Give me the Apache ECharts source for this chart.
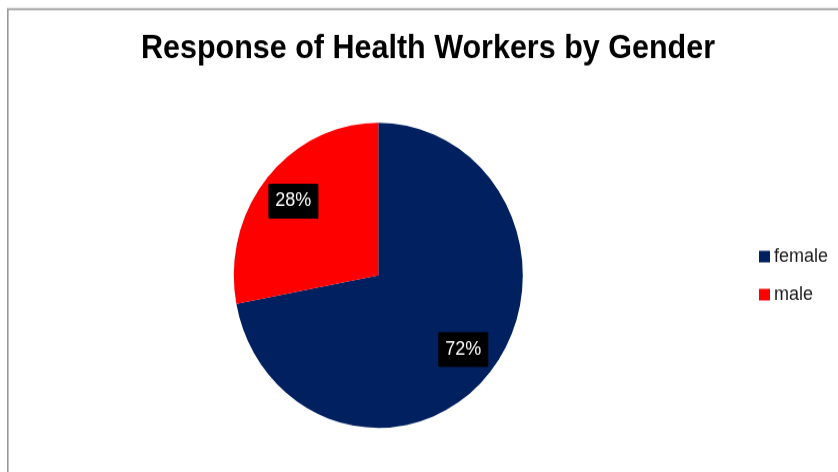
<!DOCTYPE html>
<html>
<head>
<meta charset="utf-8">
<script src="https://cdn.jsdelivr.net/npm/echarts@6/dist/echarts.min.js"></script>
<style>
html,body{margin:0;padding:0;background:#fff;overflow:hidden;width:838px;height:472px;}
#wrap{width:838px;height:472px;overflow:hidden;position:relative;}
#chart{width:838px;height:447px;transform:scale(1,1.056);transform-origin:0 0;}
</style>
</head>
<body>
<div id="wrap"><div id="chart"></div></div>
<script>
var titleText = 'Response of Health Workers by Gender';
var categories = ['female', 'male'];
var values = [72, 28];
var colors = ['#002060', '#FF0000'];

var data = categories.map(function (c, i) {
  return { name: c, value: values[i], itemStyle: { color: colors[i] } };
});
var labelData = categories.map(function (c, i) {
  return { name: c, value: values[i] };
});

var chart = echarts.init(document.getElementById('chart'), null, { renderer: 'canvas' });
chart.setOption({
  animation: false,
  backgroundColor: '#fff',
  graphic: [{
    type: 'rect',
    shape: { x: 7.8, y: 8.6, width: 1000, height: 1000 },
    style: { fill: 'none', stroke: '#9a9a9a', lineWidth: 1.6 },
    silent: true, z: -1
  }],
  title: {
    text: titleText,
    left: 141,
    top: 31,
    textStyle: { fontFamily: 'Liberation Sans', fontWeight: 'bold', fontSize: 30.5, color: '#000', lineHeight: 32 },
    padding: 0
  },
  legend: {
    orient: 'vertical',
    left: 759,
    top: 234,
    itemWidth: 11,
    itemHeight: 11,
    itemGap: 18,
    icon: 'rect',
    data: categories,
    textStyle: { fontFamily: 'Liberation Sans', fontSize: 18, color: '#1a1a1a', lineHeight: 18, padding: [0, 0, 0, -1] },
    padding: 0
  },
  series: [{
    type: 'pie',
    center: [378.3, 260.7],
    radius: [0, 144.5],
    startAngle: 90,
    clockwise: true,
    label: { show: false },
    labelLine: { show: false },
    emphasis: { disabled: true },
    itemStyle: { borderWidth: 0 },
    data: data
  }, {
    type: 'pie',
    center: [378.3, 260.7],
    radius: [70, 144.5],
    startAngle: 90,
    clockwise: true,
    silent: true,
    legendHoverLink: false,
    itemStyle: { color: 'rgba(0,0,0,0)', borderWidth: 0 },
    emphasis: { disabled: true },
    labelLine: { show: false },
    label: {
      show: true,
      position: 'inside',
      formatter: function (p) { return p.value + '%'; },
      fontFamily: 'Liberation Sans',
      fontSize: 18,
      lineHeight: 18,
      color: '#fff',
      backgroundColor: '#000',
      borderRadius: 1,
      padding: [8, 7, 7, 7]
    },
    data: labelData
  }]
});
</script>
</body>
</html>
